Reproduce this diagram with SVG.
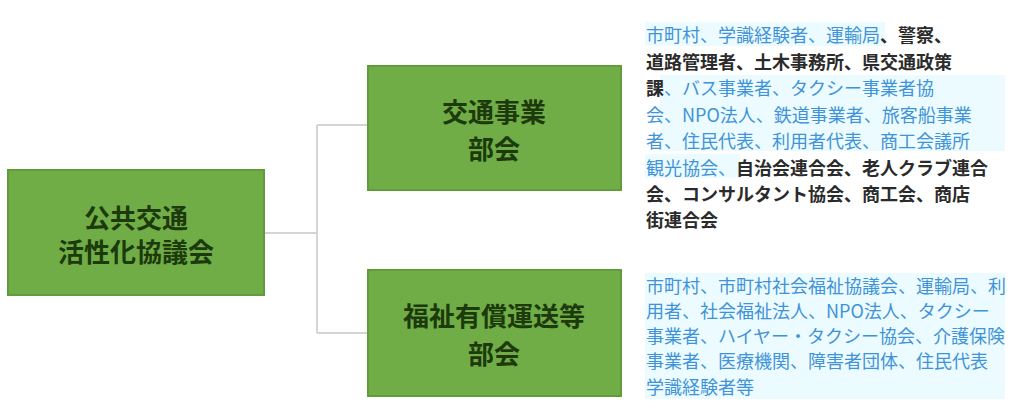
<svg xmlns="http://www.w3.org/2000/svg" width="1017" height="412" viewBox="0 0 1017 412">
<style>
.box{fill:#70ad47;stroke:#609b3c;stroke-width:2}
.bt{font-family:"Noto Sans CJK JP","Noto Sans",sans-serif;font-size:26px;font-weight:700;fill:#1c3a0c;text-anchor:middle;dominant-baseline:central}
.tx{font-family:"Noto Sans CJK JP","Noto Sans",sans-serif;font-size:18px;dominant-baseline:central}
.b{fill:#3f93d8}
.k{fill:#2b2b2b;font-weight:700}
.conn{fill:none;stroke:#d4d4d4;stroke-width:2}
.hl{fill:#ecfbff}
</style>
<rect width="1017" height="412" fill="#ffffff"/>
<g id="connectors">
<path class="conn" d="M264 233 H317 M317 125 V333 M317 125 H368 M317 333 H368"/>
</g>
<g id="root">
<rect class="box" x="8" y="170" width="256" height="125"/>
<text class="bt" x="136" y="216">公共交通</text>
<text class="bt" x="136" y="250">活性化協議会</text>
</g>
<g id="node1">
<rect class="box" x="368" y="66" width="253" height="124"/>
<text class="bt" x="494" y="110">交通事業</text>
<text class="bt" x="494" y="147">部会</text>
</g>
<g id="node2">
<rect class="box" x="368" y="270" width="253" height="126"/>
<text class="bt" x="494" y="314">福祉有償運送等</text>
<text class="bt" x="494" y="352">部会</text>
</g>
<g id="text1">
<rect class="hl" x="645" y="22" width="240" height="24"/>
<rect class="hl" x="660" y="75" width="345" height="76"/>
<rect class="hl" x="645" y="154" width="95" height="24"/>
<text class="tx" x="646" y="34"><tspan class="b">市町村、学識経験者、運輸局</tspan><tspan class="k">、警察、</tspan></text>
<text class="tx k" x="646" y="61">道路管理者、土木事務所、県交通政策</text>
<text class="tx" x="646" y="87"><tspan class="k">課</tspan><tspan class="b">、バス事業者、タクシー事業者協</tspan></text>
<text class="tx b" x="646" y="114">会、NPO法人、鉄道事業者、旅客船事業</text>
<text class="tx b" x="646" y="140">者、住民代表、利用者代表、商工会議所</text>
<text class="tx" x="646" y="167"><tspan class="b">観光協会、</tspan><tspan class="k">自治会連合会、老人クラブ連合</tspan></text>
<text class="tx k" x="646" y="193">会、コンサルタント協会、商工会、商店</text>
<text class="tx k" x="646" y="219">街連合会</text>
</g>
<g id="text2">
<rect class="hl" x="645" y="273" width="360" height="126"/>
<text class="tx b" x="646" y="285">市町村、市町村社会福祉協議会、運輸局、利</text>
<text class="tx b" x="646" y="310">用者、社会福祉法人、NPO法人、タクシー</text>
<text class="tx b" x="646" y="335">事業者、ハイヤー・タクシー協会、介護保険</text>
<text class="tx b" x="646" y="360">事業者、医療機関、障害者団体、住民代表</text>
<text class="tx b" x="646" y="386">学識経験者等</text>
</g>
</svg>
